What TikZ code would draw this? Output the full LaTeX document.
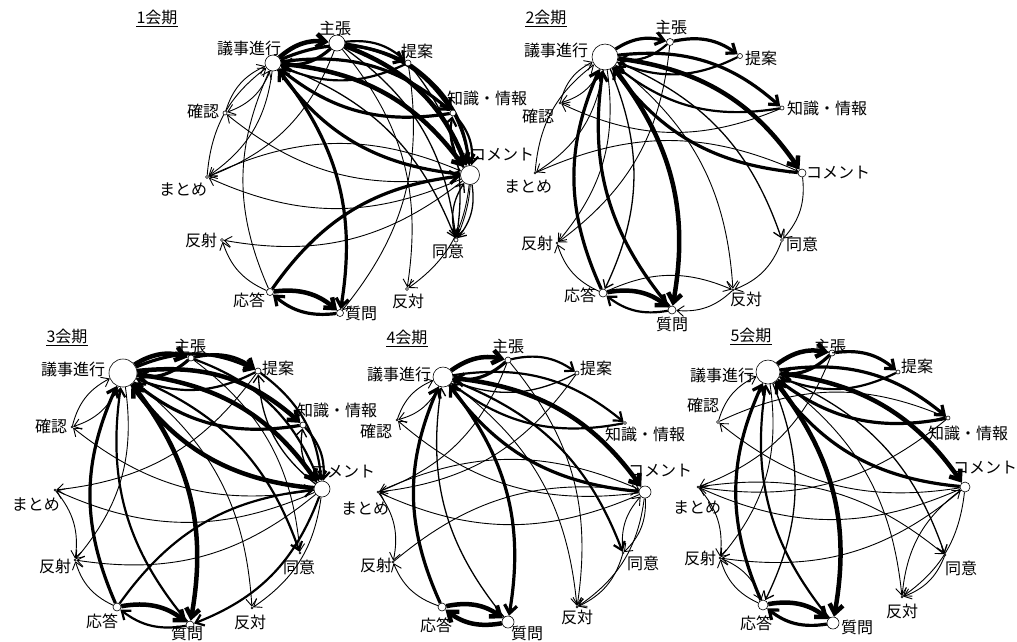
\documentclass[tikz,border=0pt]{standalone}
\usepackage{fontspec}
\setmainfont{Noto Sans CJK JP}
\usetikzlibrary{arrows.meta}
\pgfdeclarelayer{edges}
\pgfsetlayers{edges,main}
\begin{document}
\begin{tikzpicture}[x=1pt,y=-1pt,
  vx/.style={circle,draw,fill=white,inner sep=0pt,line width=0.6pt,minimum size=#1},
  lab/.style={inner sep=0pt,font=\fontsize{16}{19}\selectfont},
  ttl/.style={inner sep=0pt,font=\fontsize{16}{19}\selectfont},
  ul/.style={line width=1pt},
  ar/.style={-{Straight Barb[length=6.5pt 0.5,width=10pt 0.8]},line join=round},
  bd/.style={bend left=24}
]
\useasboundingbox (0,0) rectangle (1017,641);

% ---------- period 1 ----------
\node[ttl] (t1) at (157,17) {1会期};
\draw[ul] ([yshift=-3pt]t1.base west) -- ([yshift=-3pt]t1.base east);
\node[vx=16pt] (g1G) at (273,63) {};
\node[vx=16pt] (g1S) at (337,43) {};
\node[vx=6pt]  (g1P) at (408,63) {};
\node[vx=6pt]  (g1K) at (453,113) {};
\node[vx=19pt] (g1C) at (470,175) {};
\node[vx=4pt]  (g1A) at (456,240) {};
\node[vx=3pt]  (g1O) at (407,289) {};
\node[vx=7pt]  (g1Q) at (340,313) {};
\node[vx=7pt]  (g1R) at (270,292) {};
\node[vx=3pt]  (g1H) at (222,240) {};
\node[vx=3pt]  (g1M) at (207,177) {};
\node[vx=4pt]  (g1N) at (225,113) {};
\node[lab] (g1Gt) at (249,48) {議事進行};
\node[lab] (g1St) at (335,28) {主張};
\node[lab] (g1Pt) at (417,51) {提案};
\node[lab] (g1Kt) at (487,98) {知識・情報};
\node[lab] (g1Ct) at (502,155) {コメント};
\node[lab] (g1At) at (448,251) {同意};
\node[lab] (g1Ot) at (408,301) {反対};
\node[lab] (g1Qt) at (361,313) {質問};
\node[lab] (g1Rt) at (249,300) {応答};
\node[lab] (g1Ht) at (201,240) {反射};
\node[lab] (g1Mt) at (183,190) {まとめ};
\node[lab] (g1Nt) at (203,111) {確認};
\begin{pgfonlayer}{edges}
\foreach \a/\b/\w in {G/S/4.5,S/G/3.2,G/P/3.2,P/G/2.2,G/K/3.2,K/G/3.2,G/C/4.5,C/G/3.2,
  S/P/2.2,S/K/3.2,S/C/4.5,P/C/3.2,K/C/2.2,C/K/2.2,G/Q/3.2,R/Q/4.5,Q/R/3.2,R/C/3.2,
  C/A/1.3,A/C/1.3,G/A/1.3,S/A/1.3,P/A/1.3,S/O/0.9,C/O/0.9,G/M/0.9,S/M/0.9,C/M/0.9,M/C/0.9,
  C/N/0.9,C/H/0.9,R/H/0.9,R/G/0.9,M/G/0.9,N/G/0.9,G/N/0.9,P/Q/0.9,K/A/0.9}
  \draw[ar,line width=\w pt] (g1\a) to[bd] (g1\b);
\end{pgfonlayer}

% ---------- period 2 ----------
\node[ttl] (t2) at (546,17) {2会期};
\draw[ul] ([yshift=-3pt]t2.base west) -- ([yshift=-3pt]t2.base east);
\node[vx=26pt] (g2G) at (605,57) {};
\node[vx=7pt]  (g2S) at (670,42) {};
\node[vx=5pt]  (g2P) at (740,56) {};
\node[vx=4pt]  (g2K) at (782,108) {};
\node[vx=8pt]  (g2C) at (802,173) {};
\node[vx=3pt]  (g2A) at (782,240) {};
\node[vx=2pt]  (g2O) at (733,290) {};
\node[vx=8pt]  (g2Q) at (672,310) {};
\node[vx=8pt]  (g2R) at (603,293) {};
\node[vx=2pt]  (g2H) at (557,243) {};
\node[vx=2pt]  (g2M) at (535,173) {};
\node[vx=2pt]  (g2N) at (560,103) {};
\node[lab] (g2Gt) at (556,50) {議事進行};
\node[lab] (g2St) at (671,27) {主張};
\node[lab] (g2Pt) at (761,58) {提案};
\node[lab] (g2Kt) at (827,108) {知識・情報};
\node[lab] (g2Ct) at (838,173) {コメント};
\node[lab] (g2At) at (802,244) {同意};
\node[lab] (g2Ot) at (746,299) {反対};
\node[lab] (g2Qt) at (672,324) {質問};
\node[lab] (g2Rt) at (580,295) {応答};
\node[lab] (g2Ht) at (537,243) {反射};
\node[lab] (g2Mt) at (528,187) {まとめ};
\node[lab] (g2Nt) at (538,116) {確認};
\begin{pgfonlayer}{edges}
\foreach \a/\b/\w in {G/S/3.2,S/G/2.2,S/P/3.2,P/G/2.2,G/K/3.2,K/G/2.2,G/C/4.5,C/G/3.2,
  G/A/1.3,G/O/0.9,G/Q/4.5,Q/G/3.2,R/G/3.2,G/R/1.3,R/Q/4.5,Q/R/2.2,
  R/O/0.9,O/Q/0.9,A/O/0.9,C/A/0.9,R/H/0.9,G/H/0.9,S/H/0.9,
  G/M/0.9,M/G/0.9,M/C/0.9,K/N/0.9,N/G/0.9,G/N/0.9}
  \draw[ar,line width=\w pt] (g2\a) to[bd] (g2\b);
\end{pgfonlayer}

% ---------- period 3 ----------
\node[ttl] (t3) at (67,336) {3会期};
\draw[ul] ([yshift=-3pt]t3.base west) -- ([yshift=-3pt]t3.base east);
\node[vx=28pt] (g3G) at (123,373) {};
\node[vx=6pt]  (g3S) at (191,358) {};
\node[vx=6pt]  (g3P) at (258,371) {};
\node[vx=6pt]  (g3K) at (303,425) {};
\node[vx=16pt] (g3C) at (322,489) {};
\node[vx=2pt]  (g3A) at (300,553) {};
\node[vx=2pt]  (g3O) at (252,608) {};
\node[vx=8pt]  (g3Q) at (190,625) {};
\node[vx=8pt]  (g3R) at (117,607) {};
\node[vx=2pt]  (g3H) at (75,560) {};
\node[vx=2pt]  (g3M) at (55,490) {};
\node[vx=2pt]  (g3N) at (72,427) {};
\node[lab] (g3Gt) at (73,369) {議事進行};
\node[lab] (g3St) at (190,346) {主張};
\node[lab] (g3Pt) at (278,368) {提案};
\node[lab] (g3Kt) at (337,410) {知識・情報};
\node[lab] (g3Ct) at (343,472) {コメント};
\node[lab] (g3At) at (299,567) {同意};
\node[lab] (g3Ot) at (250,622) {反対};
\node[lab] (g3Qt) at (187,633) {質問};
\node[lab] (g3Rt) at (102,621) {応答};
\node[lab] (g3Ht) at (55,566) {反射};
\node[lab] (g3Mt) at (36,505) {まとめ};
\node[lab] (g3Nt) at (51,426) {確認};
\begin{pgfonlayer}{edges}
\foreach \a/\b/\w in {G/S/4.5,S/G/3.2,S/P/3.2,G/P/3.2,P/G/2.2,G/K/4.5,K/G/3.2,G/C/4.5,C/G/4.5,
  S/C/2.2,P/C/2.2,C/P/1.3,K/C/2.2,C/K/1.3,G/A/2.2,G/O/0.9,G/Q/4.5,R/G/3.2,Q/G/2.2,
  R/Q/4.5,Q/R/2.2,R/C/2.2,C/Q/2.2,C/H/0.9,R/H/0.9,M/H/0.9,G/H/0.9,N/G/0.9,G/N/0.9,
  C/N/0.9,C/M/0.9,P/M/0.9,C/O/0.9,S/A/0.9}
  \draw[ar,line width=\w pt] (g3\a) to[bd] (g3\b);
\end{pgfonlayer}

% ---------- period 4 ----------
\node[ttl] (t4) at (407,337) {4会期};
\draw[ul] ([yshift=-3pt]t4.base west) -- ([yshift=-3pt]t4.base east);
\node[vx=20pt] (g4G) at (443,377) {};
\node[vx=6pt]  (g4S) at (508,360) {};
\node[vx=4pt]  (g4P) at (577,373) {};
\node[vx=3pt]  (g4K) at (625,423) {};
\node[vx=12pt] (g4C) at (645,492) {};
\node[vx=2pt]  (g4A) at (623,553) {};
\node[vx=2pt]  (g4O) at (577,607) {};
\node[vx=12pt] (g4Q) at (508,622) {};
\node[vx=8pt]  (g4R) at (442,607) {};
\node[vx=2pt]  (g4H) at (393,562) {};
\node[vx=2pt]  (g4M) at (378,492) {};
\node[vx=2pt]  (g4N) at (397,420) {};
\node[lab] (g4Gt) at (399,374) {議事進行};
\node[lab] (g4St) at (508,346) {主張};
\node[lab] (g4Pt) at (596,368) {提案};
\node[lab] (g4Kt) at (645,434) {知識・情報};
\node[lab] (g4Ct) at (660,471) {コメント};
\node[lab] (g4At) at (643,563) {同意};
\node[lab] (g4Ot) at (577,617) {反対};
\node[lab] (g4Qt) at (527,633) {質問};
\node[lab] (g4Rt) at (436,625) {応答};
\node[lab] (g4Ht) at (376,565) {反射};
\node[lab] (g4Mt) at (365,509) {まとめ};
\node[lab] (g4Nt) at (376,431) {確認};
\begin{pgfonlayer}{edges}
\foreach \a/\b/\w in {G/S/4.5,S/G/3.2,S/P/2.2,P/G/1.3,G/K/2.2,K/G/2.2,G/C/4.5,C/G/3.2,
  G/A/2.2,G/O/0.9,G/Q/3.2,R/G/3.2,Q/G/1.3,R/Q/4.5,Q/R/4.5,C/A/0.9,A/C/0.9,
  C/O/0.9,A/O/0.9,H/C/0.9,C/M/0.9,M/C/0.9,C/N/0.9,N/G/0.9,G/N/0.9,P/M/0.9,S/M/0.9,
  R/H/0.9,M/H/0.9,S/O/0.9}
  \draw[ar,line width=\w pt] (g4\a) to[bd] (g4\b);
\end{pgfonlayer}

% ---------- period 5 ----------
\node[ttl] (t5) at (751,335) {5会期};
\draw[ul] ([yshift=-3pt]t5.base west) -- ([yshift=-3pt]t5.base east);
\node[vx=24pt] (g5G) at (768,372) {};
\node[vx=6pt]  (g5S) at (832,353) {};
\node[vx=4pt]  (g5P) at (898,372) {};
\node[vx=4pt]  (g5K) at (948,418) {};
\node[vx=10pt] (g5C) at (965,487) {};
\node[vx=2pt]  (g5A) at (945,555) {};
\node[vx=2pt]  (g5O) at (902,597) {};
\node[vx=12pt] (g5Q) at (833,623) {};
\node[vx=10pt] (g5R) at (763,605) {};
\node[vx=2pt]  (g5H) at (720,558) {};
\node[vx=2pt]  (g5M) at (698,487) {};
\node[vx=3pt]  (g5N) at (718,422) {};
\node[lab] (g5Gt) at (722,375) {議事進行};
\node[lab] (g5St) at (830,346) {主張};
\node[lab] (g5Pt) at (917,366) {提案};
\node[lab] (g5Kt) at (968,433) {知識・情報};
\node[lab] (g5Ct) at (985,468) {コメント};
\node[lab] (g5At) at (961,568) {同意};
\node[lab] (g5Ot) at (902,611) {反対};
\node[lab] (g5Qt) at (857,627) {質問};
\node[lab] (g5Rt) at (756,623) {応答};
\node[lab] (g5Ht) at (700,558) {反射};
\node[lab] (g5Mt) at (697,508) {まとめ};
\node[lab] (g5Nt) at (703,405) {確認};
\begin{pgfonlayer}{edges}
\foreach \a/\b/\w in {G/S/4.5,S/G/3.2,S/P/3.2,P/G/2.2,G/K/3.2,K/G/3.2,G/C/4.5,C/G/3.2,
  G/A/1.3,G/O/0.9,G/Q/4.5,Q/G/2.2,R/G/3.2,G/R/1.3,R/Q/4.5,Q/R/3.2,
  N/K/0.9,N/G/0.9,C/N/0.9,K/M/0.9,C/M/0.9,C/H/0.9,M/A/0.9,M/H/0.9,G/H/0.9,
  C/O/0.9,O/C/0.9,A/O/0.9,R/H/0.9,H/R/0.9,S/M/0.9}
  \draw[ar,line width=\w pt] (g5\a) to[bd] (g5\b);
\end{pgfonlayer}
\end{tikzpicture}
\end{document}
